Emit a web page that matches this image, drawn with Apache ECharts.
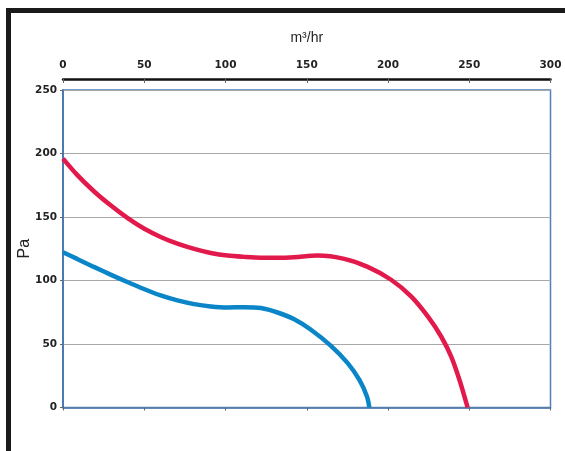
<!DOCTYPE html>
<html>
<head>
<meta charset="utf-8">
<script src="https://cdn.jsdelivr.net/npm/echarts@6/dist/echarts.min.js"></script>
<style>
html,body{margin:0;padding:0;background:#fff;}
#chart{width:565px;height:451px;}
</style>
</head>
<body>
<div id="chart"></div>
<script>
// Data
var flowRed = [0, 8.7, 19, 29.3, 39.6, 49.8, 60.1, 70.4, 80.7, 90.9, 101.2, 111.5, 121.8, 132, 142.3, 156.7, 173.1, 187.5, 201.9, 214.2, 224.5, 232.7, 238.9, 244, 249];
var pressureRed = [196, 183.2, 170.3, 159.2, 149.3, 140.9, 134.3, 129, 124.9, 121.7, 119.6, 118.6, 118, 118, 118.4, 119.6, 117, 110.7, 100.6, 87.5, 71.7, 55.9, 40.1, 21.7, 0];
var flowBlue = [0, 8.7, 19, 29.3, 39.6, 49.8, 60.1, 70.4, 80.7, 90.9, 101.2, 111.5, 121.8, 132, 142.3, 152.6, 164.9, 175.2, 182.4, 187.1, 188.5];
var pressureBlue = [122.2, 117, 110.7, 104.6, 98.8, 93.3, 88.2, 84.3, 81.4, 79.6, 78.8, 79, 78.3, 74.8, 69.5, 61.2, 48.5, 34.9, 21.7, 8.5, 0];
var xTitle = 'm³/hr';
var yTitle = 'Pa';

function pairs(xs, ys) { return xs.map(function (x, i) { return [x, ys[i]]; }); }

var chart = echarts.init(document.getElementById('chart'), null, {renderer: 'canvas'});
var labelFont = {fontFamily: 'DejaVu Sans, Verdana, sans-serif', fontWeight: 'bold', fontSize: 10.5, color: '#222'};
chart.setOption({
  backgroundColor: '#fff',
  animation: false,
  graphic: [{
    type: 'rect', silent: true, z: 100,
    shape: {x: 8.5, y: 10.5, width: 620, height: 520},
    style: {fill: 'none', stroke: '#1a1a1a', lineWidth: 5}
  }],
  grid: {left: 63, right: 14.5, top: 90, bottom: 43.5, show: true, borderColor: '#4f7fbc', borderWidth: 1.5, backgroundColor: 'transparent'},
  xAxis: [{
    type: 'value', position: 'top', min: 0, max: 300, interval: 50, offset: 11,
    name: xTitle, nameLocation: 'middle', nameGap: 34,
    nameTextStyle: {fontFamily: 'Liberation Sans, Arial, sans-serif', fontSize: 14, color: '#222'},
    axisLine: {show: true, onZero: false, lineStyle: {color: '#111', width: 2.5}},
    axisTick: {show: true, inside: true, length: 4, lineStyle: {color: '#666'}},
    axisLabel: Object.assign({margin: 8}, labelFont),
    splitLine: {show: false}
  }, {
    type: 'value', position: 'bottom', min: 0, max: 300, interval: 50,
    axisLine: {show: true, onZero: false, lineStyle: {color: '#3d6ea8', width: 1.5}},
    axisTick: {show: true, length: 3, lineStyle: {color: '#666'}},
    axisLabel: {show: false},
    splitLine: {show: false}
  }],
  yAxis: {
    type: 'value', min: 0, max: 250, interval: 50,
    name: yTitle, nameLocation: 'middle', nameGap: 30, nameRotate: 90, nameMoveOverlap: false,
    nameTextStyle: {fontFamily: 'Liberation Sans, Arial, sans-serif', fontSize: 16, color: '#222'},
    axisLine: {show: true, onZero: false, lineStyle: {color: '#3d6ea8', width: 1.5}},
    axisTick: {show: true, length: 3, lineStyle: {color: '#666'}},
    axisLabel: Object.assign({margin: 6}, labelFont),
    splitLine: {show: true, lineStyle: {color: '#a8a8a8', width: 1}}
  },
  series: [{
    type: 'line', xAxisIndex: 0, data: pairs(flowRed, pressureRed), smooth: 0.3,
    showSymbol: false, lineStyle: {color: '#e2194b', width: 4.5}, z: 3
  }, {
    type: 'line', xAxisIndex: 0, data: pairs(flowBlue, pressureBlue), smooth: 0.3,
    showSymbol: false, lineStyle: {color: '#0a86c8', width: 4.5}, z: 3
  }]
});
</script>
</body>
</html>
